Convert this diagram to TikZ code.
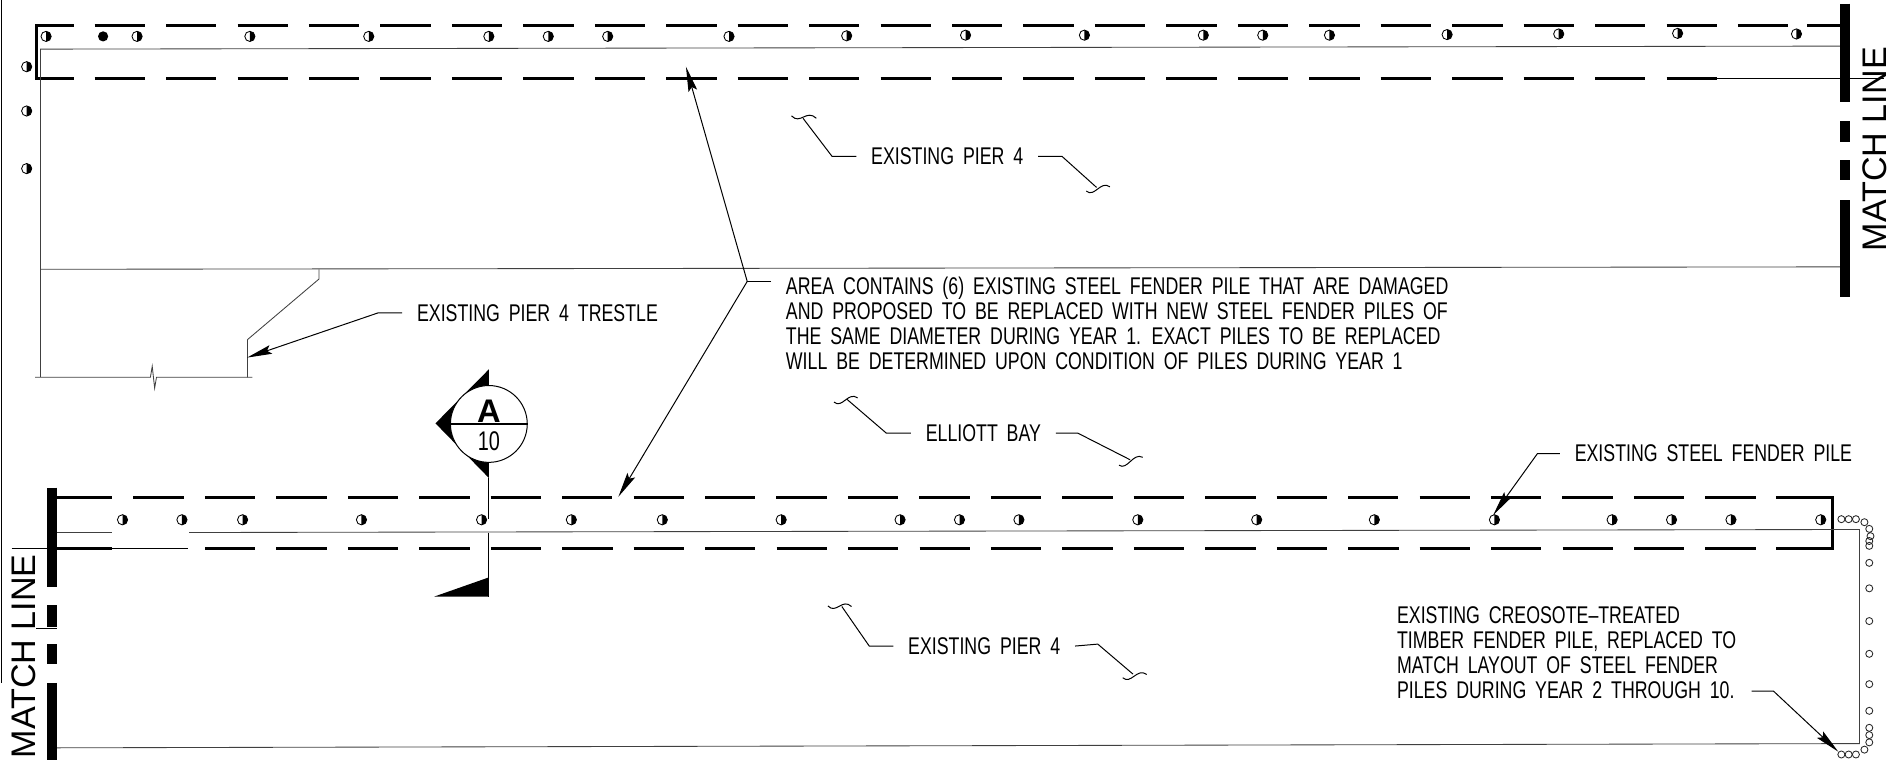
\documentclass[tikz,border=0pt]{standalone}
\usepackage{fontspec}
\usetikzlibrary{calc,arrows.meta}
\newfontfamily\notefont[FakeStretch=.735,WordSpace=1.8]{Liberation Sans}
\newfontfamily\matchfont{Liberation Sans}
\newcommand{\pile}[1]{
\draw[pileline] (#1) circle (4.2);
\fill ($(#1) + (0,4.2)$) arc[start angle=90,end angle=-90,radius=4.2] -- cycle;
}
\newcommand{\timber}[1]{
\draw[timberline] (#1) circle (2.9);
}
\newcommand{\wavy}[2]{
\draw[leader] (#1) .. controls ($(#1)!.35!(#2) + (0,7)$) and ($(#1)!.6!(#2) + (0,-7)$) .. (#2);
}
\tikzset{
	pierdash/.style={line width=2pt,dash pattern=on 1.245cm off .522cm},
	pierline/.style={line width=2pt},
	edgeline/.style={black!75,line width=.6pt},
	pileline/.style={line width=.6pt},
	timberline/.style={black!85,line width=.6pt},
	matchbar/.style={line width=.24cm},
	leader/.style={line width=.7pt},
	arrowleader/.style={leader,-{Stealth[length=.62cm,width=.22cm,inset=.1cm]}},
	notetext/.style={font=\notefont\fontsize{17}{17.7}\selectfont,inner xsep=.36cm,inner ysep=0pt,anchor=west,align=left},
	matchtext/.style={font=\matchfont\fontsize{24}{24}\selectfont,rotate=90,inner sep=0pt}
}
\begin{document}
\begin{tikzpicture}[x=.03cm,y=-.03cm]
			\useasboundingbox (0,0) rectangle (1568,626.5);
			\draw[black,line width=1pt] (1,0) -- (1,563);

			% upper strip
			\coordinate (topleft) at (30,21);
			\coordinate (lowleft) at (30,65);
			\draw[pierline] (61,21) -- (topleft) -- (lowleft) -- (61,65);
			\draw[pierdash] (78,21) -- (1490,21);
			\draw[pierline] (1490,21) -- (1517,21);
			\draw[pierdash] (78,65) -- (1415.5,65);
			\draw[leader] (1415.5,65) -- (1553,65);
			\draw[edgeline] (33,40.5) -- (1517,38);
			\draw[edgeline] (33,222) -- (1517,220);
			\draw[edgeline] (33,40.5) -- (33,311);
			\draw[edgeline] (263,222) -- (263,230) -- (204,280) -- (204,311);
			\draw[edgeline] (29,311) -- (124,311) -- (125.5,302) -- (127.5,320) -- (129,311) -- (208,311);

			\draw[matchbar] (1521,3) -- (1521,84);
			\draw[matchbar] (1521,100) -- (1521,117);
			\draw[matchbar] (1521,132) -- (1521,148);
			\draw[matchbar] (1521,165) -- (1521,245);
			\node[matchtext] (matchupper) at (1545.5,123) {MATCH LINE};

			\foreach \x/\y in {38/30,113/30,206/30,304/30,403/30,452/30,501/30,601/30,698/29.5,796/29,894/29,992/29,1041/29,1096/29,1193/28.5,1285/28,1383/27.5,1481/28}{
				\pile{\x,\y}
			}
			\fill (85,30) circle (4.2);
			\foreach \y in {55,91.5,139}{
				\pile{22,\y}
			}

			% lower strip
			\draw[pierline] (92,410) -- (47,410);
			\draw[pierdash] (110,410) -- (1464,410);
			\draw[pierline] (1464,410) -- (1511,410) -- (1511,452) -- (1464,452);
			\draw[pierdash] (169,452) -- (1464,452);
			\draw[pierline] (47,452) -- (92,452);
			\draw[leader] (9.5,452) -- (155,452);
			\draw[leader] (30,518) -- (47,518);
			\draw[edgeline] (47,439) -- (92,439);
			\draw[edgeline] (156,439) -- (1533,436.5) -- (1533,613) -- (47,616.5);

			\draw[matchbar] (43,402) -- (43,484);
			\draw[matchbar] (43,499) -- (43,517);
			\draw[matchbar] (43,531) -- (43,547);
			\draw[matchbar] (43,563) -- (43,626.5);
			\node[matchtext] (matchlower) at (19.7,541) {MATCH LINE};

			\foreach \x in {101,150,200,298,397,471,546,644,742,791,840,938,1036,1133,1232,1329,1378,1427,1501}{
				\pile{\x,428.5}
			}
			\foreach \x/\y in {1518/428,1524/428,1530/428,1537/430.5,1541/436,1542/442,1541/446,1541/450,1541/464,1541/485,1541/512,1541/539,1541/564,1541/586,1541/600,1541/606,1541/612,1537/618,1530/622,1524/622,1518/622}{
				\timber{\x,\y}
			}

			% section marker
			\coordinate (sectop) at (403,304.5);
			\coordinate (secleft) at (359,349);
			\coordinate (secbot) at (403,394);
			\coordinate (secfoot) at (403,491.8);
			\fill (sectop) -- (secleft) -- (secbot) -- cycle;
			\node[draw,circle,fill=white,minimum size=1.9cm,inner sep=0pt,line width=.7pt] (secmark) at (403,349.5) {};
			\draw[line width=.8pt] (secmark.west) -- (secmark.east);
			\node[font=\matchfont\bfseries\fontsize{23}{23}\selectfont,inner sep=0pt] (secletter) at (403,339) {A};
			\node[font=\notefont\fontsize{19}{19}\selectfont,inner sep=0pt] (secsheet) at (403,364) {10};
			\draw[leader] (secbot) -- (403,428);
			\draw[leader] (403,439) -- (secfoot);
			\fill (secfoot) -- (358,491.8) -- (403,476) -- cycle;

			% notes
			\node[notetext] (pierupper) at (706,129) {EXISTING PIER 4};
			\coordinate (pua) at (686,129);
			\coordinate (pub) at (662,97.5);
			\draw[leader] (pierupper.west) -- (pua) -- (pub);
			\wavy{652.5,95.5}{673,97.5}
			\coordinate (puc) at (875.6,129);
			\coordinate (pud) at (904,154.5);
			\draw[leader] (pierupper.east) -- (puc) -- (pud);
			\wavy{895.5,157.5}{915,154}

			\node[notetext] (bay) at (751,357) {ELLIOTT BAY};
			\coordinate (baya) at (730.6,357);
			\coordinate (bayb) at (698,329);
			\draw[leader] (bay.west) -- (baya) -- (bayb);
			\wavy{687.5,331.5}{707,328}
			\coordinate (bayc) at (888.4,357);
			\coordinate (bayd) at (931.6,379);
			\draw[leader] (bay.east) -- (bayc) -- (bayd);
			\wavy{922.5,383.5}{942,377}

			\node[notetext] (pierlower) at (736.5,532.6) {EXISTING PIER 4};
			\coordinate (pla) at (716.6,532.6);
			\coordinate (plb) at (694,500);
			\draw[leader] (pierlower.west) -- (pla) -- (plb);
			\wavy{682.5,499.5}{702,500}
			\coordinate (plc) at (905,531);
			\coordinate (pld) at (934,555.7);
			\draw[leader] (pierlower.east) -- (plc) -- (pld);
			\wavy{925.5,558.7}{945.3,556}

			\node[notetext] (trestle) at (331.6,258) {EXISTING PIER 4 TRESTLE};
			\coordinate (trestlea) at (311.5,258);
			\coordinate (trestletip) at (203.7,294.8);
			\draw[arrowleader] (trestle.west) -- (trestlea) -- (trestletip);

			\node[notetext] (steel) at (1286,374) {EXISTING STEEL FENDER PILE};
			\coordinate (steela) at (1267.4,374);
			\coordinate (steeltip) at (1231,424.6);
			\draw[arrowleader] (steel.west) -- (steela) -- (steeltip);

			\node[notetext] (areanote) at (635.7,266.5) {AREA CONTAINS (6) EXISTING STEEL FENDER PILE THAT ARE DAMAGED\\AND PROPOSED TO BE REPLACED WITH NEW STEEL FENDER PILES OF\\THE SAME DIAMETER DURING YEAR 1. EXACT PILES TO BE REPLACED\\WILL BE DETERMINED UPON CONDITION OF PILES DURING YEAR 1};
			\coordinate (arealead) at (635.7,232);
			\coordinate (areajoin) at (616,232);
			\coordinate (areatipa) at (565.5,55);
			\coordinate (areatipb) at (509.8,409.5);
			\draw[leader] (arealead) -- (areajoin);
			\draw[arrowleader] (areajoin) -- (areatipa);
			\draw[arrowleader] (areajoin) -- (areatipb);

			\node[notetext] (timbernote) at (1139.5,538) {EXISTING CREOSOTE\textendash TREATED\\TIMBER FENDER PILE, REPLACED TO\\MATCH LAYOUT OF STEEL FENDER\\PILES DURING YEAR 2 THROUGH 10.};
			\coordinate (timberlead) at (1444,569.7);
			\coordinate (timbera) at (1462,569.7);
			\coordinate (timbertip) at (1515.5,619.7);
			\draw[arrowleader] (timberlead) -- (timbera) -- (timbertip);
			\end{tikzpicture}
\end{document}
